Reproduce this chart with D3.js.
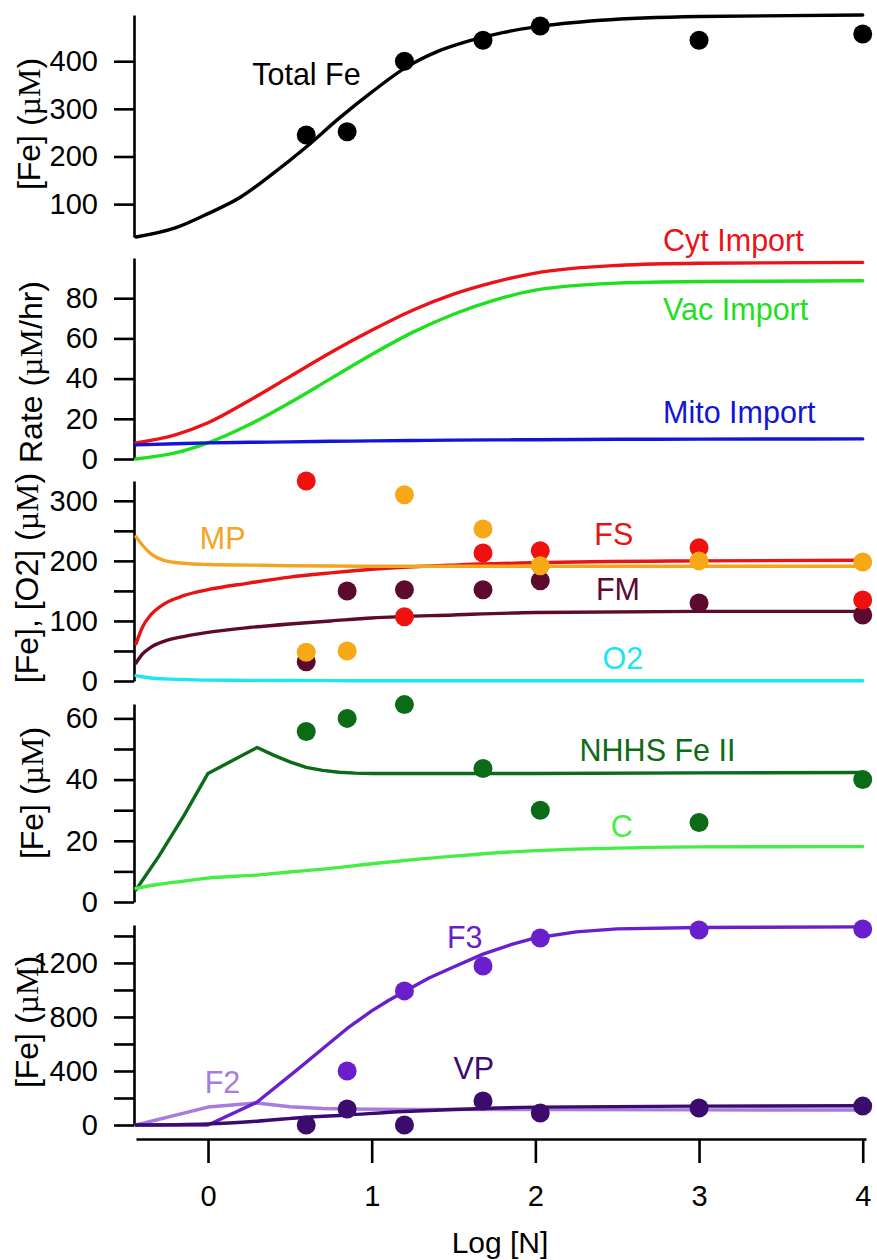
<!DOCTYPE html>
<html>
<head>
<meta charset="utf-8">
<script src="https://cdn.jsdelivr.net/npm/d3@7"></script>
<style>
  html, body { margin: 0; padding: 0; background: #fff; }
  text { font-family: "Liberation Sans", Arial, sans-serif; }
</style>
</head>
<body>
<div id="chart"></div>
<script>
// Log [N] where the measurements were taken
const sampleX = [0.6, 0.85, 1.2, 1.68, 2.03, 3.0, 4.0];

// Panel 1 - total iron
const totalFeX = [-0.44, -0.2, 0, 0.2, 0.4, 0.6, 0.8, 1.0, 1.2, 1.4, 1.6, 1.8, 2.0, 2.4, 3.0, 4.0];
const totalFeFit = [31, 50, 80, 115, 165, 220, 280, 335, 385, 420, 443, 460, 472, 486, 494, 497];
const totalFeData = [245, 252, 400, 444, 474, 444, 457];

// Panel 2 - import rates
const rateX = [-0.44, -0.2, 0, 0.25, 0.5, 0.75, 1.0, 1.25, 1.5, 1.75, 2.0, 2.5, 3.0, 4.0];
const cytImport = [8, 12, 18, 29, 41, 53, 64, 74, 82, 88, 92.5, 96.3, 97.4, 97.8];
const vacImport = [0, 3, 8, 17, 28, 40, 52, 63, 72, 79, 84, 87.5, 88.3, 88.7];
const mitoImport = [7, 7.6, 8, 8.3, 8.5, 8.8, 9, 9.2, 9.4, 9.5, 9.6, 9.8, 9.9, 10];

// Panel 3 - FS, FM, MP, O2
const p3X = [-0.44, -0.4, -0.35, -0.27, -0.15, 0, 0.25, 0.5, 0.75, 1.0, 1.5, 2.0, 3.0, 4.0];
const fsFit = [62, 90, 110, 128, 142, 152, 163, 173, 180, 186, 193, 197, 200, 201];
const fmFit = [30, 45, 56, 66, 74, 81, 89, 95, 100, 105, 110, 114, 116, 116];
const mpFit = [240, 226, 212, 201, 196, 194, 193, 192, 191.5, 191, 191, 191, 191, 191];
const o2Fit = [9, 7, 5, 3.5, 2.5, 1.5, 1, 0.8, 0.6, 0.5, 0.5, 0.5, 0.5, 0.5];
const fsDataX = [0.6, 1.2, 1.68, 2.03, 3.0, 4.0];
const fsData = [333, 107, 213, 217, 222, 135];
const fmData = [32, 150, 152, 152, 167, 130, 110];
const mpData = [48, 50, 310, 253, 192, 200, 198];

// Panel 4 - NHHS Fe II and C
const nhhsX = [-0.44, -0.3, -0.15, 0, 0.3, 0.4, 0.5, 0.6, 0.7, 0.8, 0.9, 1.0, 1.5, 2.0, 3.0, 4.0];
const nhhsFit = [4, 15, 28, 42, 50.5, 48, 45.8, 44, 43, 42.4, 42.1, 42, 42, 42, 42.2, 42.3];
const cX = [-0.44, -0.3, -0.15, 0, 0.3, 0.5, 0.75, 1.0, 1.5, 2.0, 2.5, 3.0, 4.0];
const cFit = [4.5, 5.8, 6.8, 7.8, 8.8, 9.8, 11, 12.5, 15, 16.8, 17.6, 18, 18.1];
const nhhsData = [55.7, 60, 64.5, 43.6, 30, 26, 40];

// Panel 5 - F3, F2, VP
const f3X = [-0.44, 0, 0.3, 0.54, 0.7, 0.85, 1.0, 1.1, 1.2, 1.35, 1.5, 1.68, 1.85, 2.0, 2.25, 2.5, 3.0, 4.0];
const f3Fit = [0, 0, 170, 405, 565, 715, 845, 920, 988, 1088, 1170, 1265, 1335, 1385, 1430, 1452, 1463, 1467];
const f2X = [-0.44, 0, 0.3, 0.5, 0.7, 0.85, 1.2, 2.0, 3.0, 4.0];
const f2Fit = [0, 133, 163, 135, 122, 118, 116, 114, 112, 111];
const vpX = [-0.44, 0, 0.3, 0.54, 0.85, 1.2, 1.5, 2.0, 3.0, 4.0];
const vpFit = [0, 8, 28, 52, 74, 100, 115, 132, 140, 142];
const f3DataX = [0.85, 1.2, 1.68, 2.03, 3.0, 4.0];
const f3Data = [400, 993, 1178, 1385, 1444, 1452];
const vpData = [0, 118, 0, 178, 89, 126, 140];

const xTicks = [0, 1, 2, 3, 4];

//-------------------------------------------------------------
const W = 877, H = 1260;
const fs = 29;        // tick labels
const lblFs = 30.5;   // series names
const axisX = 134;

const svg = d3.select('#chart').append('svg')
    .attr('width', W).attr('height', H);

const x = d3.scaleLinear().domain([-0.44, 4.02]).range([136, 866]);

const zip = (xs, ys) => xs.map((v, i) => [v, ys[i]]);

const panels = [
  {
    domain: [31, 497], range: [237, 15], ticks: [100, 200, 300, 400], labelEvery: null,
    title: ['[Fe] (', 'µM', ')'], titleX: 29, titleY: 124,
    lines: [{ pts: zip(totalFeX, totalFeFit), color: '#000', curve: d3.curveMonotoneX }],
    dots: [{ pts: zip(sampleX, totalFeData), color: '#000' }],
    labels: [{ t: 'Total Fe', x: 0.27, y: 373, color: '#000' }]
  },
  {
    domain: [0, 100], range: [459, 258], ticks: [0, 20, 40, 60, 80], labelEvery: null,
    title: ['Rate (', 'µM', '/hr)'], titleX: 31, titleY: 372,
    lines: [
      { pts: zip(rateX, vacImport), color: '#1ee01e', curve: d3.curveMonotoneX },
      { pts: zip(rateX, cytImport), color: '#ec1218', curve: d3.curveMonotoneX },
      { pts: zip(rateX, mitoImport), color: '#1414d8', curve: d3.curveMonotoneX }
    ],
    dots: [],
    labels: [
      { t: 'Cyt Import', x: 2.78, y: 109, color: '#ec1218' },
      { t: 'Vac Import', x: 2.78, y: 74.6, color: '#1ee01e' },
      { t: 'Mito Import', x: 2.78, y: 23.4, color: '#1414d8' }
    ]
  },
  {
    domain: [0, 333], range: [681, 481], ticks: d3.range(0, 301, 50), labelEvery: 100,
    title: ['[Fe], [O2] (', 'µM', ')'], titleX: 27, titleY: 578,
    lines: [
      { pts: zip(p3X, o2Fit), color: '#1ce6f0', curve: d3.curveMonotoneX },
      { pts: zip(p3X, fmFit), color: '#5c0a2e', curve: d3.curveMonotoneX },
      { pts: zip(p3X, fsFit), color: '#e81414', curve: d3.curveMonotoneX },
      { pts: zip(p3X, mpFit), color: '#f2a524', curve: d3.curveMonotoneX }
    ],
    dots: [
      { pts: zip(sampleX, fmData), color: '#5c0a2e' },
      { pts: zip(fsDataX, fsData), color: '#f01010' },
      { pts: zip(sampleX, mpData), color: '#f7a816' }
    ],
    labels: [
      { t: 'MP', x: -0.05, y: 238, color: '#f2a524' },
      { t: 'FS', x: 2.36, y: 245, color: '#e81414' },
      { t: 'FM', x: 2.37, y: 153, color: '#5c0a2e' },
      { t: 'O2', x: 2.41, y: 37, color: '#1ce6f0' }
    ]
  },
  {
    domain: [0, 64.7], range: [902, 704], ticks: d3.range(0, 61, 10), labelEvery: 20,
    title: ['[Fe] (', 'µM', ')'], titleX: 32, titleY: 793,
    lines: [
      { pts: zip(nhhsX, nhhsFit), color: '#0b6b17', curve: d3.curveLinear },
      { pts: zip(cX, cFit), color: '#44ee44', curve: d3.curveMonotoneX }
    ],
    dots: [{ pts: zip(sampleX, nhhsData), color: '#0b6b17' }],
    labels: [
      { t: 'NHHS Fe II', x: 2.27, y: 49.5, color: '#0b6b17' },
      { t: 'C', x: 2.46, y: 24.8, color: '#44ee44' }
    ]
  },
  {
    domain: [0, 1481], range: [1125, 925], ticks: d3.range(0, 1401, 200), labelEvery: 400,
    title: ['[Fe] (', 'µM', ')'], titleX: 27, titleY: 1022,
    lines: [
      { pts: zip(f2X, f2Fit), color: '#a77be0', curve: d3.curveLinear },
      { pts: zip(f3X, f3Fit), color: '#6a1fcc', curve: d3.curveLinear },
      { pts: zip(vpX, vpFit), color: '#3b0c6e', curve: d3.curveMonotoneX }
    ],
    dots: [
      { pts: zip(f3DataX, f3Data), color: '#6a1fcc' },
      { pts: zip(sampleX, vpData), color: '#3b0c6e' }
    ],
    labels: [
      { t: 'F3', x: 1.46, y: 1393, color: '#6a1fcc' },
      { t: 'F2', x: -0.02, y: 318, color: '#a77be0' },
      { t: 'VP', x: 1.5, y: 422, color: '#3b0c6e' }
    ]
  }
];

panels.forEach(p => {
  const y = d3.scaleLinear().domain(p.domain).range(p.range);
  const g = svg.append('g');

  // left axis
  const axis = d3.axisLeft(y)
      .tickValues(p.ticks)
      .tickSize(20)
      .tickSizeOuter(0)
      .tickPadding(16)
      .tickFormat(d => (p.labelEvery === null || d % p.labelEvery === 0) ? d : '');
  const ag = g.append('g')
      .attr('transform', `translate(${axisX},0)`)
      .call(axis);
  ag.selectAll('path, line').attr('stroke', '#000').attr('stroke-width', 2.6);
  ag.selectAll('text').attr('font-size', fs).attr('fill', '#000')
      .attr('font-family', '"Liberation Sans", Arial, sans-serif');

  // rotated axis title
  const title = g.append('text')
      .attr('transform', `translate(${p.titleX},${p.titleY}) rotate(-90)`)
      .attr('text-anchor', 'middle')
      .attr('dy', '0.35em')
      .attr('font-size', 32)
      .attr('fill', '#000');
  title.append('tspan').text(p.title[0]);
  title.append('tspan').attr('font-family', '"Liberation Serif", "Times New Roman", serif').text(p.title[1]);
  title.append('tspan').text(p.title[2]);

  // fitted curves
  p.lines.forEach(l => {
    const line = d3.line().x(d => x(d[0])).y(d => y(d[1])).curve(l.curve);
    g.append('path')
        .datum(l.pts)
        .attr('d', line)
        .attr('fill', 'none')
        .attr('stroke', l.color)
        .attr('stroke-width', 3.4)
        .attr('stroke-linejoin', 'round')
        .attr('stroke-linecap', 'round');
  });

  // measured values
  p.dots.forEach(s => {
    g.append('g').selectAll('circle')
        .data(s.pts)
        .enter()
        .append('circle')
        .attr('cx', d => x(d[0]))
        .attr('cy', d => y(d[1]))
        .attr('r', 9.5)
        .attr('fill', s.color);
  });

  // series names
  g.selectAll('text.lbl')
      .data(p.labels)
      .enter()
      .append('text')
      .attr('class', 'lbl')
      .attr('x', d => x(d.x))
      .attr('y', d => y(d.y))
      .attr('dy', '0.35em')
      .attr('font-size', lblFs)
      .attr('fill', d => d.color)
      .text(d => d.t);
});

// bottom axis
const xAxis = d3.axisBottom(x)
    .tickValues(xTicks)
    .tickSize(24)
    .tickSizeOuter(0)
    .tickPadding(22)
    .tickFormat(d3.format('d'));
const xg = svg.append('g')
    .attr('transform', 'translate(0,1139)')
    .call(xAxis);
xg.selectAll('path, line').attr('stroke', '#000').attr('stroke-width', 2.6);
xg.selectAll('text').attr('font-size', fs).attr('fill', '#000')
    .attr('font-family', '"Liberation Sans", Arial, sans-serif');

svg.append('text')
    .attr('x', 500)
    .attr('y', 1242)
    .attr('dy', '0.35em')
    .attr('text-anchor', 'middle')
    .attr('font-size', 30)
    .attr('fill', '#000')
    .text('Log [N]');
</script>
</body>
</html>
